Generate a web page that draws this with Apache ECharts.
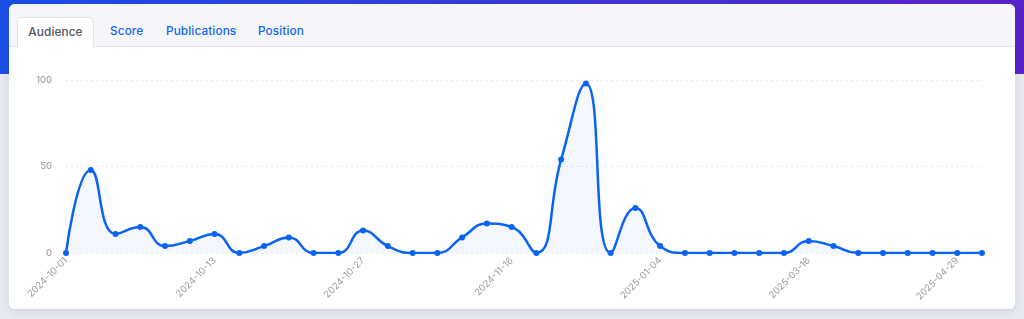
<!DOCTYPE html>
<html>
<head>
<meta charset="utf-8">
<script src="https://cdn.jsdelivr.net/npm/echarts@6/dist/echarts.min.js"></script>
<style>
  html, body { margin: 0; padding: 0; width: 1024px; height: 319px; overflow: hidden; }
  body { background: #e7eaf1; font-family: Inter, "Noto Sans", sans-serif; position: relative; }
  .band { position: absolute; left: 0; top: 0; width: 1024px; height: 74px;
          background: linear-gradient(90deg, #1a50e6 0%, #3a3ad8 50%, #5a22c8 100%); }
  .card { position: absolute; left: 9px; top: 4px; width: 1006px; height: 305px;
          background: #fff; border-radius: 6px; box-shadow: 0 2px 8px rgba(40,50,90,0.12); overflow: hidden; }
  .tabs { position: absolute; left: 0; top: 0; width: 100%; height: 42px; background: #f5f6fa;
          border-bottom: 1px solid #e1e4ea; }
  .tab { position: absolute; top: 13px; height: 29px; line-height: 28px; font-size: 11.8px; font-weight: 500;
         color: #1366f0; letter-spacing: 0.1px; }
  .tab.active { left: 8px; width: 75px; background: #fff; border: 1px solid #e1e4ea; border-bottom: 1px solid #fff;
                border-radius: 5px 5px 0 0; text-align: center; color: #50555d; height: 29px; }
  #chart { position: absolute; left: 0; top: 43px; width: 1006px; height: 262px; }
</style>
</head>
<body>
<div class="band"></div>
<div class="card">
  <div class="tabs">
    <div class="tab active">Audience</div>
    <div class="tab" style="left:101px">Score</div>
    <div class="tab" style="left:157px">Publications</div>
    <div class="tab" style="left:249px">Position</div>
  </div>
  <div id="chart"></div>
</div>
<script>
const dates = [
  "2024-10-01","2024-10-03","2024-10-05","2024-10-07","2024-10-09","2024-10-11",
  "2024-10-13","2024-10-15","2024-10-18","2024-10-20","2024-10-22","2024-10-25",
  "2024-10-27","2024-10-29","2024-11-02","2024-11-05","2024-11-08","2024-11-12",
  "2024-11-16","2024-11-22","2024-11-29","2024-12-06","2024-12-14","2024-12-22",
  "2025-01-04","2025-01-14","2025-01-25","2025-02-04","2025-02-15","2025-03-03",
  "2025-03-16","2025-03-23","2025-03-30","2025-04-06","2025-04-13","2025-04-21",
  "2025-04-29","2025-05-06"
];
const audience = [
  0, 48, 11, 15, 4, 7,
  11, 0, 4, 9, 0, 0,
  13, 4, 0, 0, 9, 17,
  15, 0, 54, 98, 0, 26,
  4, 0, 0, 0, 0, 0,
  7, 4, 0, 0, 0, 0,
  0, 0
];
const yTicks = { min: 0, max: 100, interval: 50 };

const chart = echarts.init(document.getElementById('chart'), null, { renderer: 'canvas' });
chart.setOption({
  animation: false,
  grid: { left: 57, right: 33, top: 33, bottom: 56 },
  xAxis: {
    type: 'category',
    data: dates,
    boundaryGap: false,
    axisLine: { show: false },
    axisTick: { show: false },
    axisLabel: { rotate: 45, interval: 5, color: '#9a9ca3', fontSize: 9.5, fontFamily: 'Inter', margin: 6 }
  },
  yAxis: {
    type: 'value',
    min: yTicks.min, max: yTicks.max, interval: yTicks.interval,
    axisLabel: { color: '#8e9097', fontSize: 9.5, fontFamily: 'Inter', margin: 14 },
    splitLine: { lineStyle: { type: [2, 3], color: '#e8e9ee', width: 1 } }
  },
  series: [{
    type: 'line',
    data: audience,
    smooth: true,
    symbol: 'circle',
    symbolSize: 6,
    lineStyle: { color: '#0a63f2', width: 2.5 },
    itemStyle: { color: '#0a63f2' },
    areaStyle: { color: 'rgba(10,99,242,0.06)' }
  }]
});
</script>
</body>
</html>
